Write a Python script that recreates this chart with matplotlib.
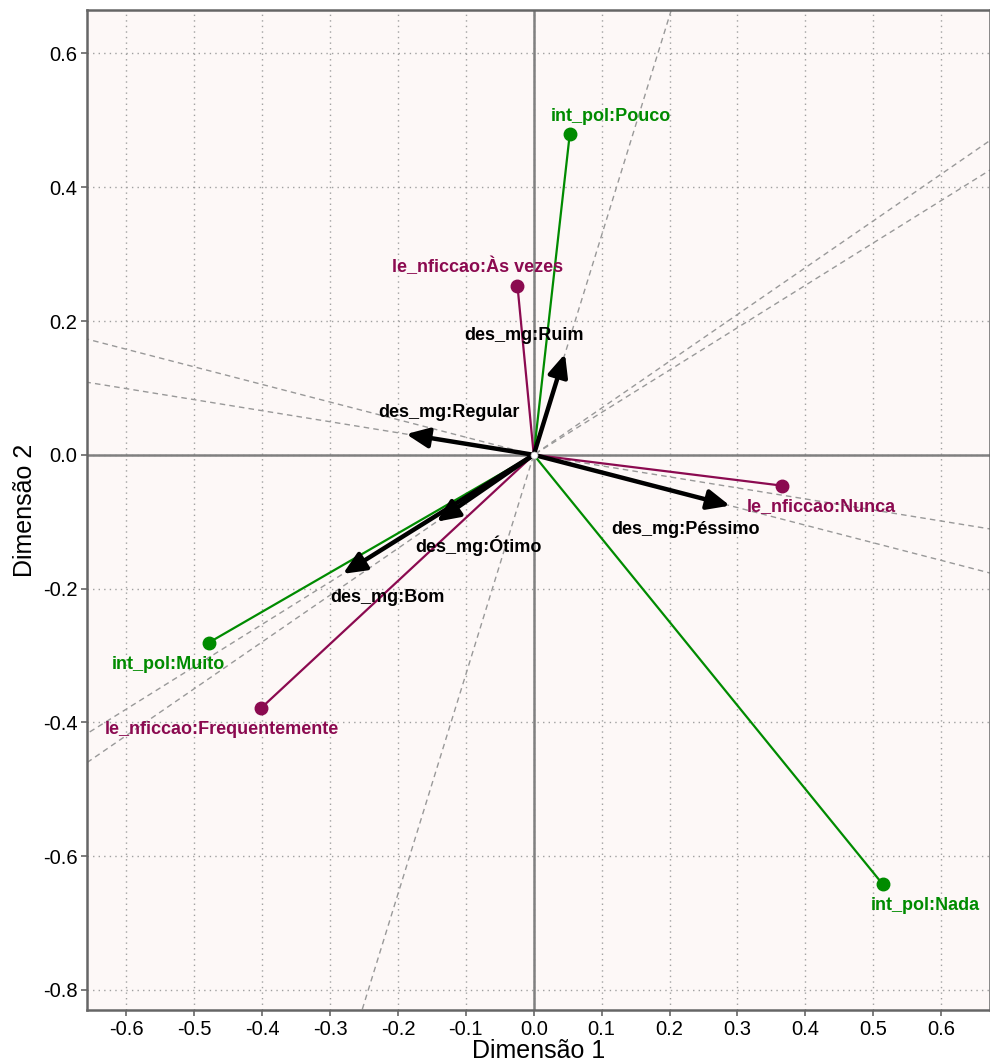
import matplotlib
matplotlib.use("Agg")
import matplotlib.pyplot as plt
import numpy as np

plt.rcParams['font.family'] = ['Liberation Sans', 'DejaVu Sans']

# Supplementary variable categories (points)
cat_labels = ["int_pol:Pouco", "le_nficcao:Às vezes", "le_nficcao:Nunca",
              "int_pol:Nada", "int_pol:Muito", "le_nficcao:Frequentemente"]
cat_x = [0.053, -0.024, 0.365, 0.514, -0.479, -0.402]
cat_y = [0.479, 0.253, -0.046, -0.642, -0.281, -0.379]
cat_group = ["int_pol", "le_nficcao", "le_nficcao", "int_pol", "int_pol", "le_nficcao"]

# Arrow categories (des_mg)
arr_labels = ["des_mg:Ruim", "des_mg:Regular", "des_mg:Péssimo", "des_mg:Ótimo", "des_mg:Bom"]
arr_x = [0.046, -0.188, 0.289, -0.143, -0.281]
arr_y = [0.151, 0.031, -0.076, -0.100, -0.178]

xticks = [-0.6, -0.5, -0.4, -0.3, -0.2, -0.1, 0.0, 0.1, 0.2, 0.3, 0.4, 0.5, 0.6]
yticks = [0.6, 0.4, 0.2, 0.0, -0.2, -0.4, -0.6, -0.8]

colors = {"int_pol": "#008B00", "le_nficcao": "#8B0A50"}

fig = plt.figure(figsize=(9.9, 10.64), dpi=100)
ax = fig.add_axes([87/990, 54/1064, 903/990, 1000/1064])
ax.set_facecolor("#FDF8F7")
xlim = (-0.658, 0.672)
ylim = (-0.83, 0.665)
ax.set_xlim(*xlim)
ax.set_ylim(*ylim)

# grid
for xv in xticks:
    ax.axvline(xv, color="#A0A0A0", lw=1.0, ls=(0, (1, 3)), zorder=0)
for yv in yticks:
    ax.axhline(yv, color="#A0A0A0", lw=1.0, ls=(0, (1, 3)), zorder=0)

ax.axhline(0, color="#808080", lw=1.8, zorder=1)
ax.axvline(0, color="#808080", lw=1.8, zorder=1)

# dashed lines through origin along arrow directions
xs = np.array([xlim[0] - 1, xlim[1] + 1])
for x, y in zip(arr_x, arr_y):
    s = y / x
    ax.plot(xs, s * xs, color="#999999", lw=1.0, ls=(0, (4, 3)), zorder=1)

# colored segments and points
for x, y, g in zip(cat_x, cat_y, cat_group):
    c = colors[g]
    ax.plot([0, x], [0, y], color=c, lw=1.6, zorder=2)
    ax.plot(x, y, 'o', color=c, ms=9, zorder=3)

# black arrows
for x, y in zip(arr_x, arr_y):
    ax.annotate("", xy=(x, y), xytext=(0, 0),
                arrowprops=dict(arrowstyle="-|>,head_length=0.9,head_width=0.4",
                                color="black", lw=3.2, mutation_scale=15,
                                shrinkA=0, shrinkB=0), zorder=4)

ax.plot(0, 0, 'o', color="white", ms=5, mec="#BBBBBB", mew=0.5, zorder=5)

# label positions
cat_lx = [0.114, -0.083, 0.424, 0.576, -0.538, -0.460]
cat_ly = [0.506, 0.281, -0.078, -0.674, -0.314, -0.411]
for lab, x, y, g in zip(cat_labels, cat_lx, cat_ly, cat_group):
    ax.text(x, y, lab, color=colors[g], fontsize=13, fontweight="bold",
            ha="center", va="center", zorder=6)

arr_lx = [-0.015, -0.125, 0.223, -0.081, -0.216]
arr_ly = [0.179, 0.064, -0.111, -0.136, -0.214]
for lab, px, py in zip(arr_labels, arr_lx, arr_ly):
    ax.text(px, py, lab, color="black", fontsize=13, fontweight="bold",
            ha="center", va="center", zorder=6)

ax.set_xticks(xticks)
ax.set_xticklabels([f"{v:.1f}" for v in xticks])
ax.set_yticks(yticks)
ax.set_yticklabels([f"{v:.1f}" for v in yticks])
ax.tick_params(axis="both", labelsize=14.5, color="#666666", length=4, width=1.2,
               labelcolor="black", pad=3)
ax.set_xlabel("Dimensão 1", fontsize=18, labelpad=0)
ax.set_ylabel("Dimensão 2", fontsize=18, labelpad=4)
for side in ["left", "bottom", "top", "right"]:
    ax.spines[side].set_color("#666666")
    ax.spines[side].set_linewidth(1.8)

fig.savefig("out.png", dpi=100)
